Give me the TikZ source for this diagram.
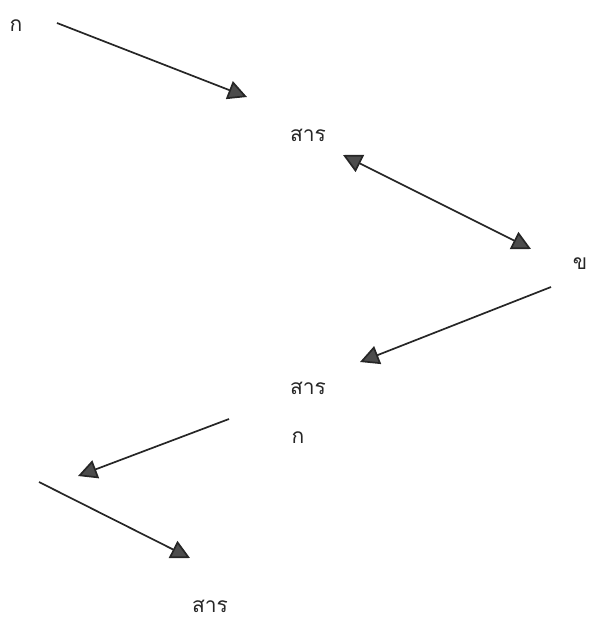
\documentclass[tikz,border=0pt]{standalone}
\usepackage{fontspec}
\newfontfamily\thaifont[Script=Thai]{Loma}
\usetikzlibrary{arrows.meta}
\begin{document}
\begin{tikzpicture}[x=1pt,y=-1pt,
  lbl/.style={font=\thaifont\fontsize{21}{24}\selectfont, inner sep=0pt, text=black!85},
  tip/.style={},
  conn/.style={line width=1.7pt, draw=black!85, -{Triangle[length=19pt,width=19pt,fill=black!70]}},
  biconn/.style={line width=1.7pt, draw=black!85, {Triangle[length=19pt,width=19pt,fill=black!70]}-{Triangle[length=19pt,width=19pt,fill=black!70]}}]
\useasboundingbox (0,0) rectangle (591,620);
\node[lbl] (k1) at (16,26) {ก};
\node[lbl] (s1) at (308,135) {สาร};
\node[lbl] (kh) at (580,264) {ข};
\node[lbl] (s2) at (308,388) {สาร};
\node[lbl] (k2) at (298,438) {ก};
\node[lbl] (s3) at (210,606) {สาร};
\coordinate (a1s) at (57,23);
\coordinate (a1e) at (247,97);
\coordinate (a2s) at (343,155);
\coordinate (a2e) at (531,249);
\coordinate (a3s) at (551,287);
\coordinate (a3e) at (360,362);
\coordinate (a4s) at (229,419);
\coordinate (a4e) at (78,476);
\coordinate (a5s) at (39,482);
\coordinate (a5e) at (190,558);
\draw[conn] (a1s) -- (a1e);
\draw[biconn] (a2s) -- (a2e);
\draw[conn] (a3s) -- (a3e);
\draw[conn] (a4s) -- (a4e);
\draw[conn] (a5s) -- (a5e);
\end{tikzpicture}
\end{document}
